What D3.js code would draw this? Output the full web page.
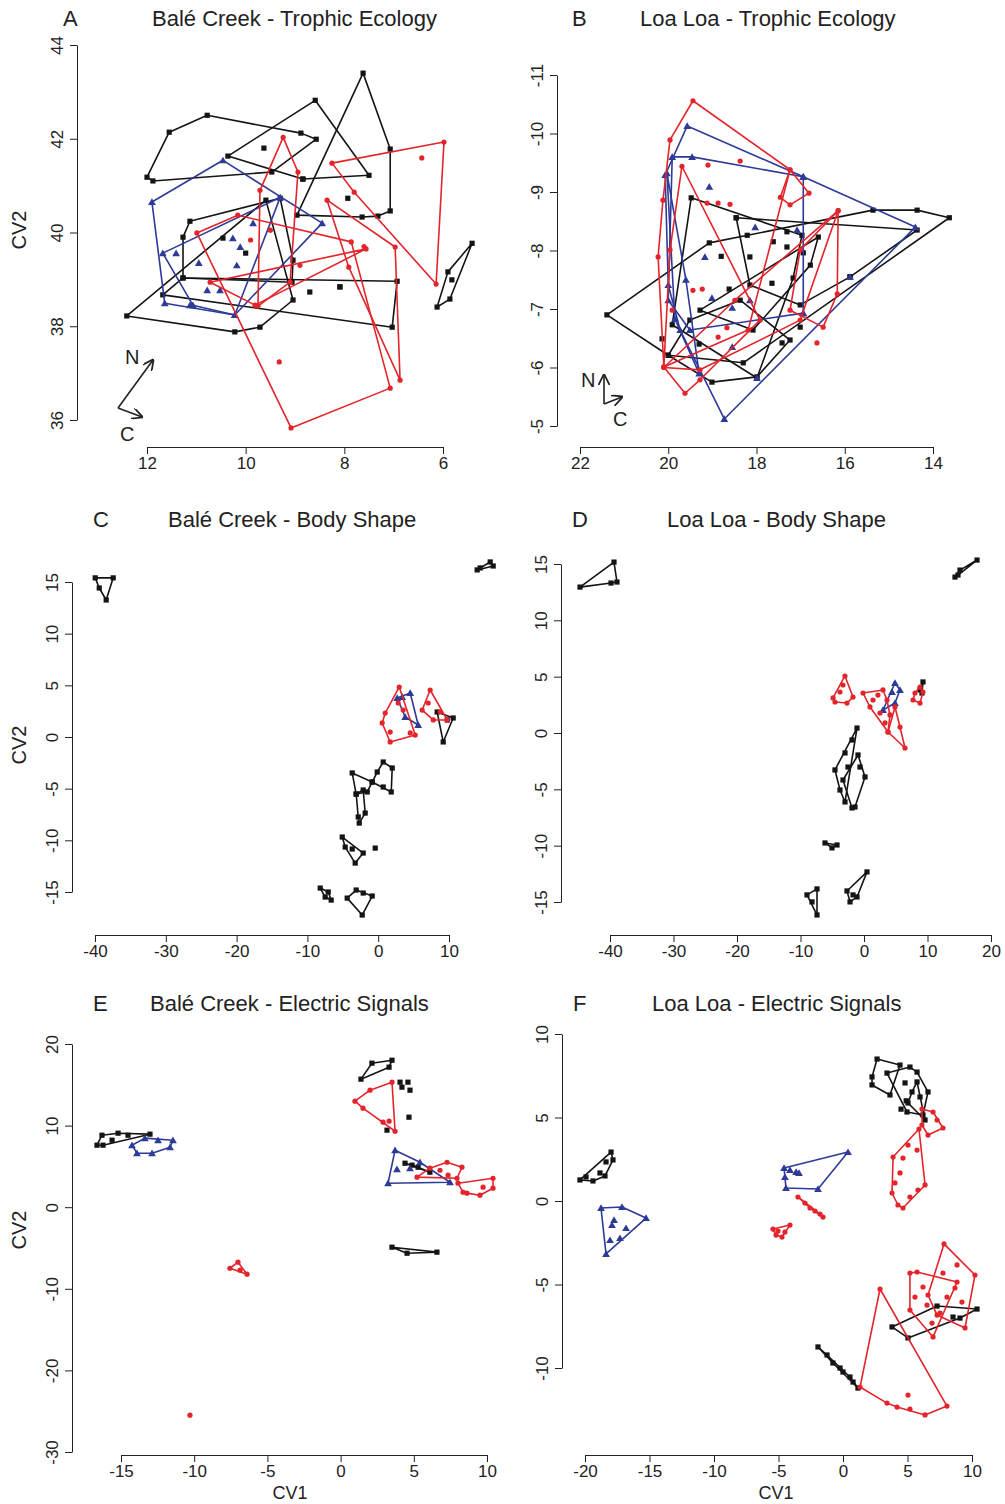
<!DOCTYPE html>
<html>
<head>
<meta charset="utf-8">
<script src="https://cdn.jsdelivr.net/npm/d3@7"></script>
<style>
body { margin: 0; background: #fff; }
svg { display: block; }
text { font-family: "Liberation Sans", Arial, sans-serif; fill: #222; }
</style>
</head>
<body>
<svg id="chart" width="1005" height="1504"></svg>
<script>
// ---- tick labels ----
const aTicksX = [12, 10, 8, 6], aTicksY = [36, 38, 40, 42, 44];
const bTicksX = [22, 20, 18, 16, 14], bTicksY = [-5, -6, -7, -8, -9, -10, -11];
const cTicksX = [-40, -30, -20, -10, 0, 10], cTicksY = [-15, -10, -5, 0, 5, 10, 15];
const dTicksX = [-40, -30, -20, -10, 0, 10, 20], dTicksY = [-15, -10, -5, 0, 5, 10, 15];
const eTicksX = [-15, -10, -5, 0, 5, 10], eTicksY = [-30, -20, -10, 0, 10, 20];
const fTicksX = [-20, -15, -10, -5, 0, 5, 10], fTicksY = [-10, -5, 0, 5, 10];

// ---- A: Balé Creek - Trophic Ecology (CV1, CV2 per individual, grouped by species) ----
const aBlack = [
  [[12, 41.18], [11.55, 42.14], [10.78, 42.5], [8.88, 42.12], [8.57, 41.99], [9.47, 41.29], [11.88, 41.1]],
  [[7.62, 43.4], [7.07, 41.78], [7.07, 40.46], [8.96, 40.37], [7.64, 40.33], [7.32, 40.35], [7.93, 40.73]],
  [[10.36, 41.63], [8.59, 42.82], [7.5, 41.22], [9.63, 41.8], [8.84, 41.14]],
  [[11.13, 40.24], [11.27, 39.9], [11.27, 39.03], [9.06, 38.94], [9.3, 40.73], [10.46, 39.88], [10.0, 39.56], [9.04, 39.41]],
  [[12.41, 38.22], [10.22, 37.88], [9.71, 37.98], [9.04, 38.56], [9.59, 40.69]],
  [[11.68, 38.67], [11.27, 39.03], [6.93, 38.96], [7.03, 37.98], [8.7, 38.73], [8.09, 38.84]],
  [[6.12, 38.41], [5.9, 39.16], [5.41, 39.77], [5.86, 38.58], [5.82, 38.99]]
];
const aRed = [
  [[8.25, 41.48], [5.98, 41.93], [6.14, 38.9], [6.43, 41.59], [7.8, 40.86]],
  [[10.99, 39.99], [10.16, 40.37], [7.86, 39.8], [7.07, 36.68], [9.08, 35.83], [9.9, 39.84]],
  [[8.35, 40.69], [7.91, 39.26], [6.87, 36.85], [6.97, 39.69], [7.6, 39.7]],
  [[9.24, 42.03], [8.94, 41.29], [9.1, 38.94], [9.75, 38.43], [9.71, 40.9], [9.5, 40.05]],
  [[10.72, 38.94], [7.56, 39.65], [8.9, 39.3], [9.81, 38.45]],
  [[9.32, 37.24]]
];
const aBlue = [
  [[11.9, 40.65], [10.46, 41.54], [8.45, 40.2], [10.22, 38.24], [11.13, 38.45], [11.64, 38.49], [9.85, 40.2],
   [10.26, 39.88], [10.11, 39.69], [10.95, 39.35], [10.18, 39.3], [10.78, 38.77], [10.52, 38.77], [11.41, 39.56]],
  [[11.68, 39.56], [9.3, 40.75], [10.22, 38.24], [11.07, 38.45]]
];
const aLoose = [[8.84, 41.14], [8.09, 38.84]];

// ---- B: Loa Loa - Trophic Ecology ----
const bBlack = [
  [[21.39, -6.9], [19.07, -8.13], [15.36, -8.69], [14.36, -8.69], [13.63, -8.56], [15.88, -7.55], [18.3, -6.08], [20.0, -6.21]],
  [[19.48, -8.9], [18.46, -8.56], [16.97, -8.26], [17.17, -7.53], [17.99, -5.82], [19.91, -6.73]],
  [[18.46, -8.56], [14.36, -8.35], [15.88, -7.55], [17.01, -7.07], [18.15, -7.41]],
  [[20.0, -6.21], [19.01, -5.75], [17.99, -5.84], [17.24, -6.47], [18.37, -7.15], [19.51, -6.81]],
  [[19.28, -6.98], [16.6, -8.23], [16.78, -7.75], [18.08, -6.64]]
];
const bBlackLoose = [[18.21, -8.26], [17.62, -8.15], [17.31, -8.32], [18.15, -7.89], [17.31, -8.06], [16.94, -7.96],
  [17.65, -7.44], [17.01, -6.69], [17.42, -6.42], [20.14, -6.49], [18.62, -7.34], [18.8, -7.9], [19.3, -6.4]];
const bRed = [
  [[19.44, -10.56], [17.24, -9.38], [18.19, -6.64], [20.1, -6.01], [20.23, -7.89], [20.12, -8.86], [19.96, -9.89],
   [19.1, -9.46], [18.87, -8.81], [18.6, -8.79], [19.12, -8.81]],
  [[19.69, -9.44], [17.92, -6.81], [19.28, -5.79], [19.62, -5.56], [20.1, -6.01], [19.96, -8.01]],
  [[16.15, -8.68], [16.17, -7.26], [16.49, -6.69], [17.24, -6.98], [17.01, -8.01]],
  [[17.24, -9.38], [16.81, -8.98], [17.24, -8.78], [17.46, -8.91]],
  [[20.1, -6.0], [18.49, -7.15], [16.15, -8.68], [17.01, -6.81], [19.28, -5.96]]
];
const bRedLoose = [[16.63, -6.42], [19.44, -7.32], [19.23, -7.34], [19.91, -6.98], [18.67, -6.68], [18.87, -6.52], [18.37, -9.53]];
const bBlue = [
  [[19.57, -10.13], [16.94, -9.26], [14.4, -8.4], [15.88, -7.55], [16.94, -6.93], [17.99, -5.82], [18.73, -5.12],
   [19.73, -6.64], [20.0, -7.41], [20.07, -9.29]],
  [[19.91, -9.6], [19.46, -9.6], [16.94, -9.26], [17.08, -8.35], [16.94, -6.93], [18.15, -7.15], [19.51, -6.64], [20.0, -7.15]],
  [[20.03, -9.32], [19.85, -6.83], [19.3, -5.9], [19.6, -7.5]]
];
const bBlueLoose = [[19.07, -9.09], [19.17, -7.89], [19.01, -7.19], [18.55, -7.02], [18.55, -6.35], [18.03, -8.4]];

// ---- C: Balé Creek - Body Shape ----
const cBlack = [
  [[-39.97, 15.4], [-37.43, 15.4], [-38.42, 13.26], [-39.4, 14.42]],
  [[13.98, 16.17], [15.82, 16.94], [16.24, 16.55], [14.4, 16.36]],
  [[0.71, -2.42], [1.98, -3.0], [1.84, -5.32], [-0.85, -4.36], [-0.14, -3.39], [0.71, -4.84]],
  [[-3.67, -3.48], [-0.85, -4.36], [-1.55, -5.32], [-3.11, -5.52]],
  [[-2.12, -5.13], [-1.84, -7.36], [-2.82, -7.74], [-2.68, -8.33], [-3.11, -5.52]],
  [[-5.08, -9.68], [-4.66, -10.65], [-3.67, -10.84], [-2.12, -11.23], [-3.25, -12.2]],
  [[-4.38, -15.59], [-3.11, -14.81], [-2.12, -15.1], [-0.85, -15.39], [-2.26, -17.23]],
  [[-8.19, -14.62], [-7.06, -15.0], [-6.64, -15.78], [-7.49, -15.49]],
  [[8.33, 2.42], [10.59, 1.84], [9.18, -0.48], [9.75, 1.65]]
];
const cBlackLoose = [[-0.42, -10.75]];
const cRed = [
  [[2.97, 4.84], [0.99, 2.32], [0.56, 1.36], [1.69, -0.48], [4.52, 0.39], [5.23, 0.19], [3.53, 2.61], [1.69, 0.48], [2.82, 3.29]],
  [[7.34, 4.55], [8.76, 2.42], [6.21, 2.61], [7.77, 1.65], [9.75, 1.65], [7.06, 3.29]]
];
const cBlue = [[[2.68, 3.78], [4.52, 4.26], [5.65, 1.16], [3.81, 1.94], [3.39, 3.87]]];

// ---- D: Loa Loa - Body Shape ----
const dBlack = [
  [[-44.72, 12.95], [-39.37, 15.17], [-38.9, 13.4], [-39.84, 13.31]],
  [[14.33, 13.84], [15.12, 14.46], [17.8, 15.35], [14.8, 14.02]],
  [[9.29, 4.53], [9.13, 3.55], [8.82, 3.82]],
  [[-1.1, 0.44], [-1.89, -0.62], [-2.99, -1.77], [-4.57, -3.28], [-3.78, -5.06], [-2.99, -6.12], [-2.52, -3.02]],
  [[-0.94, -1.95], [0.16, -3.9], [-1.42, -6.57], [-1.89, -6.65], [-0.63, -3.02], [-3.31, -4.17]],
  [[-6.14, -9.76], [-4.25, -9.94], [-5.04, -10.2]],
  [[-7.4, -13.84], [-8.98, -14.37], [-8.19, -14.99], [-7.4, -16.15]],
  [[0.47, -12.33], [-2.68, -14.02], [-2.2, -14.99], [-1.1, -14.55], [-1.73, -14.37]]
];
const dRed = [
  [[-3.0, 5.06], [-4.88, 3.11], [-2.68, 2.66], [-3.78, 3.64], [-1.73, 3.19], [-3.31, 4.26], [-4.57, 2.75]],
  [[-0.16, 3.55], [2.99, 3.82], [3.62, 2.93], [0.94, 2.31], [2.52, 1.77], [3.78, 0.09], [3.31, 0.89], [1.42, 2.93], [4.09, 1.6], [2.2, 3.37]],
  [[6.46, -1.33], [5.67, 0.53], [4.88, 2.31], [3.78, 0.09]],
  [[8.82, 4.08], [8.03, 3.55], [7.72, 2.93], [8.82, 2.66], [9.29, 3.64]]
];
const dBlue = [[[4.88, 4.44], [5.67, 3.82], [4.88, 2.66], [2.99, 2.04], [4.41, 3.64]]];

// ---- E: Balé Creek - Electric Signals ----
const eBlack = [
  [[1.39, 15.69], [2.14, 17.65], [3.51, 18.01], [3.31, 17.16]],
  [[-16.64, 7.6], [-16.3, 8.82], [-15.2, 9.07], [-13.02, 8.95], [-16.23, 7.6], [-15.61, 8.21], [-14.52, 8.82]],
  [[4.4, 5.39], [6.1, 4.29], [5.29, 4.9], [4.88, 5.15]],
  [[3.51, -4.9], [6.58, -5.51], [4.54, -5.64]]
];
const eBlackLoose = [[4.06, 15.32], [4.6, 15.32], [4.74, 14.34], [4.19, 14.71], [4.67, 11.03], [3.17, 9.44]];
const eRed = [
  [[3.51, 15.32], [0.98, 12.99], [1.53, 12.13], [2.9, 10.42], [3.72, 9.31], [2.01, 14.34], [3.31, 10.54]],
  [[5.22, 3.68], [6.1, 4.78], [7.27, 5.51], [8.29, 4.9], [7.95, 3.55], [7.34, 3.92], [6.79, 4.53]],
  [[8.02, 2.94], [10.41, 3.55], [10.41, 2.33], [9.52, 1.47], [8.63, 1.72], [8.36, 1.84], [9.73, 2.45]],
  [[-7.56, -7.48], [-7.01, -6.74], [-6.39, -8.21], [-6.87, -7.72]],
  [[-10.29, -25.49]]
];
const eBlue = [
  [[3.72, 6.99], [3.24, 2.94], [7.47, 3.06], [3.85, 4.66], [4.74, 4.78], [5.42, 5.51]],
  [[-14.25, 7.6], [-13.91, 6.62], [-12.88, 6.62], [-11.65, 7.35], [-11.45, 8.21], [-12.47, 8.21], [-13.37, 8.46]]
];

// ---- F: Loa Loa - Electric Signals ----
const fBlack = [
  [[-20.39, 1.26], [-19.92, 1.44], [-19.38, 1.2], [-18.84, 1.68], [-18.45, 1.5], [-17.98, 2.93], [-17.83, 2.46], [-18.37, 2.34]],
  [[2.25, 6.95], [2.64, 8.5], [4.42, 8.14], [3.64, 6.35], [2.25, 7.43]],
  [[3.41, 7.66], [5.19, 8.02], [5.74, 7.72], [6.59, 6.53], [6.2, 5.15], [4.96, 5.33], [4.81, 7.07]],
  [[5.04, 5.87], [5.74, 7.13], [5.97, 6.23], [6.36, 4.85], [5.35, 6.53]],
  [[1.16, -11.2], [-1.94, -8.74], [-0.78, -9.7], [0, -10.24], [0.54, -10.54], [-1.24, -9.22], [-0.23, -10.0], [0.78, -10.84]],
  [[3.8, -7.54], [5.04, -8.2], [10.39, -6.47], [7.29, -6.29], [8.53, -6.95], [9.07, -7.01]]
];
const fBlackLoose = [[4.5, 5.5], [4.9, 6.0]];
const fRed = [
  [[6.12, 5.51], [6.98, 5.33], [7.75, 4.37], [6.59, 3.95], [6.12, 4.55], [7.29, 4.85]],
  [[5.89, 4.31], [3.88, 2.63], [3.8, 0.48], [4.26, -0.24], [4.65, -0.42], [6.36, 0.96], [5.74, 3.05], [5.04, 3.35],
   [4.42, 1.68], [4.03, 1.08], [4.65, 2.57], [5.81, 0.66], [5.19, 0.24]],
  [[2.87, -5.27], [1.32, -11.14], [3.41, -12.1], [6.36, -12.81], [8.06, -12.28], [4.19, -12.34], [5.19, -12.46], [5.04, -11.62]],
  [[5.19, -4.31], [5.74, -4.25], [5.19, -6.53], [6.98, -8.14], [8.84, -4.85], [6.2, -5.15], [5.58, -5.75], [6.51, -6.23], [7.52, -6.71], [6.9, -7.31]],
  [[7.83, -2.57], [10.23, -4.43], [9.46, -7.6], [8.84, -3.83], [6.59, -5.63], [7.75, -4.31], [8.68, -5.21], [9.22, -6.05], [8.06, -5.75], [7.29, -6.83]],
  [[-5.43, -1.68], [-5.19, -2.04], [-4.73, -2.16], [-4.5, -1.86], [-4.11, -1.44], [-5.04, -1.8]],
  [[-3.49, 0.24], [-2.95, -0.12], [-2.56, -0.42], [-1.78, -0.78], [-1.55, -0.96], [-2.17, -0.6]]
];
const fBlue = [
  [[-18.76, -0.42], [-17.13, -0.36], [-15.27, -1.02], [-18.37, -3.17], [-18.06, -2.34], [-17.29, -2.22], [-16.82, -1.62], [-17.91, -1.44], [-17.75, -1.14]],
  [[-4.57, 1.98], [0.39, 2.93], [-1.94, 0.72], [-4.42, 0.78], [-4.11, 1.86], [-3.64, 1.74], [-3.41, 1.68], [-4.5, 1.44]]
];

const colBlack = "#141414", colRed = "#e3242b", colBlue = "#2d3a97";

const svg = d3.select("#chart");

// panel layout (pixel frame) + data
const panels = [
  { letter: "A", title: "Balé Creek - Trophic Ecology", lx: 63, tx: 152, ty: 26,
    xr: [147, 443], yr: [420, 45], left: 77, bottom: 447, xt: aTicksX, yt: aTicksY,
    black: aBlack, red: aRed, blue: aBlue, loose: { black: aLoose } },
  { letter: "B", title: "Loa Loa - Trophic Ecology", lx: 572, tx: 640, ty: 26,
    xr: [580, 933], yr: [426, 75], left: 557, bottom: 447, xt: bTicksX, yt: bTicksY,
    black: bBlack, red: bRed, blue: bBlue, loose: { black: bBlackLoose, red: bRedLoose, blue: bBlueLoose } },
  { letter: "C", title: "Balé Creek - Body Shape", lx: 93, tx: 168, ty: 527,
    xr: [95, 449], yr: [892, 582], left: 72, bottom: 935, xt: cTicksX, yt: cTicksY,
    black: cBlack, red: cRed, blue: cBlue, loose: { black: cBlackLoose } },
  { letter: "D", title: "Loa Loa - Body Shape", lx: 572, tx: 667, ty: 527,
    xr: [610, 991], yr: [902, 564], left: 561, bottom: 935, xt: dTicksX, yt: dTicksY,
    black: dBlack, red: dRed, blue: dBlue, loose: {} },
  { letter: "E", title: "Balé Creek - Electric Signals", lx: 93, tx: 150, ty: 1011,
    xr: [121, 487], yr: [1452, 1044], left: 72, bottom: 1455, xt: eTicksX, yt: eTicksY,
    black: eBlack, red: eRed, blue: eBlue, loose: { black: eBlackLoose } },
  { letter: "F", title: "Loa Loa - Electric Signals", lx: 573, tx: 652, ty: 1011,
    xr: [585, 972], yr: [1368, 1034], left: 562, bottom: 1455, xt: fTicksX, yt: fTicksY,
    black: fBlack, red: fRed, blue: fBlue, loose: { black: fBlackLoose } }
];

const triangle = d3.symbol().type(d3.symbolTriangle).size(26);

function drawMarks(g, pts, color, kind) {
  if (kind === "black") {
    g.selectAll(null).data(pts).enter().append("rect")
      .attr("x", d => d[0] - 2.6).attr("y", d => d[1] - 2.6)
      .attr("width", 5.2).attr("height", 5.2).attr("fill", color);
  } else if (kind === "red") {
    g.selectAll(null).data(pts).enter().append("circle")
      .attr("cx", d => d[0]).attr("cy", d => d[1]).attr("r", 2.6).attr("fill", color);
  } else {
    g.selectAll(null).data(pts).enter().append("path")
      .attr("d", triangle).attr("transform", d => `translate(${d[0]},${d[1] + 0.8})`).attr("fill", color);
  }
}

function drawPanel(p) {
  const x = d3.scaleLinear().domain([p.xt[0], p.xt[p.xt.length - 1]]).range(p.xr);
  const y = d3.scaleLinear().domain([p.yt[0], p.yt[p.yt.length - 1]]).range(p.yr);
  const g = svg.append("g");

  // axes, R style: line only between first and last tick, plain hyphen minus
  const ax = g.append("g").attr("transform", `translate(0,${p.bottom})`)
    .call(d3.axisBottom(x).tickValues(p.xt).tickSize(7).tickSizeOuter(0).tickPadding(3).tickFormat(d => String(d)));
  ax.selectAll("text").attr("font-size", 17).attr("fill", "#222").attr("font-family", "Liberation Sans, Arial, sans-serif");
  ax.selectAll("line,path").attr("stroke", "#222");

  const ay = g.append("g").attr("transform", `translate(${p.left},0)`)
    .call(d3.axisLeft(y).tickValues(p.yt).tickSize(7).tickSizeOuter(0).tickFormat(d => String(d)));
  ay.selectAll("line,path").attr("stroke", "#222");
  ay.selectAll(".tick text").attr("x", null).attr("dy", null)
    .attr("transform", "translate(-14,0) rotate(-90)").attr("text-anchor", "middle")
    .attr("font-size", 17).attr("fill", "#222").attr("font-family", "Liberation Sans, Arial, sans-serif");

  // titles
  g.append("text").attr("x", p.lx).attr("y", p.ty).attr("font-size", 22).text(p.letter);
  g.append("text").attr("x", p.tx).attr("y", p.ty).attr("font-size", 22).text(p.title);

  // convex hulls + points per group
  const layers = [["black", colBlack], ["blue", colBlue], ["red", colRed]];
  layers.forEach(([kind, color]) => {
    const lg = g.append("g");
    p[kind].forEach(group => {
      const pts = group.map(d => [x(d[0]), y(d[1])]);
      if (pts.length >= 3) {
        const hull = d3.polygonHull(pts);
        lg.append("path").attr("d", "M" + hull.join("L") + "Z")
          .attr("fill", "none").attr("stroke", color).attr("stroke-width", 1.6).attr("stroke-linejoin", "round");
      } else if (pts.length === 2) {
        lg.append("path").attr("d", "M" + pts.join("L"))
          .attr("fill", "none").attr("stroke", color).attr("stroke-width", 1.6);
      }
      drawMarks(lg, pts, color, kind);
    });
    const loose = p.loose[kind];
    if (loose) drawMarks(lg, loose.map(d => [x(d[0]), y(d[1])]), color, kind);
  });
}

panels.forEach(drawPanel);

// axis titles
[230, 745, 1230].forEach(cy => {
  svg.append("text").attr("transform", `translate(26,${cy}) rotate(-90)`)
    .attr("text-anchor", "middle").attr("font-size", 20).text("CV2");
});
[290, 776].forEach(cx => {
  svg.append("text").attr("x", cx).attr("y", 1499).attr("text-anchor", "middle").attr("font-size", 18).text("CV1");
});

// N / C direction arrows
svg.append("defs").append("marker").attr("id", "arr").attr("viewBox", "0 0 10 10")
  .attr("refX", 9).attr("refY", 5).attr("markerWidth", 7).attr("markerHeight", 7).attr("orient", "auto")
  .append("path").attr("d", "M0,0L10,5L0,10").attr("fill", "none").attr("stroke", "#222").attr("stroke-width", 1.6);
const arrows = [
  { o: [118, 408], n: [153, 360], c: [142, 417], nl: [125, 364], cl: [120, 441] },
  { o: [604, 404], n: [604, 375], c: [622, 397], nl: [581, 387], cl: [613, 426] }
];
arrows.forEach(a => {
  [a.n, a.c].forEach(t => svg.append("line").attr("x1", a.o[0]).attr("y1", a.o[1]).attr("x2", t[0]).attr("y2", t[1])
    .attr("stroke", "#222").attr("stroke-width", 1.6).attr("marker-end", "url(#arr)"));
  svg.append("text").attr("x", a.nl[0]).attr("y", a.nl[1]).attr("font-size", 20).text("N");
  svg.append("text").attr("x", a.cl[0]).attr("y", a.cl[1]).attr("font-size", 20).text("C");
});
</script>
</body>
</html>
